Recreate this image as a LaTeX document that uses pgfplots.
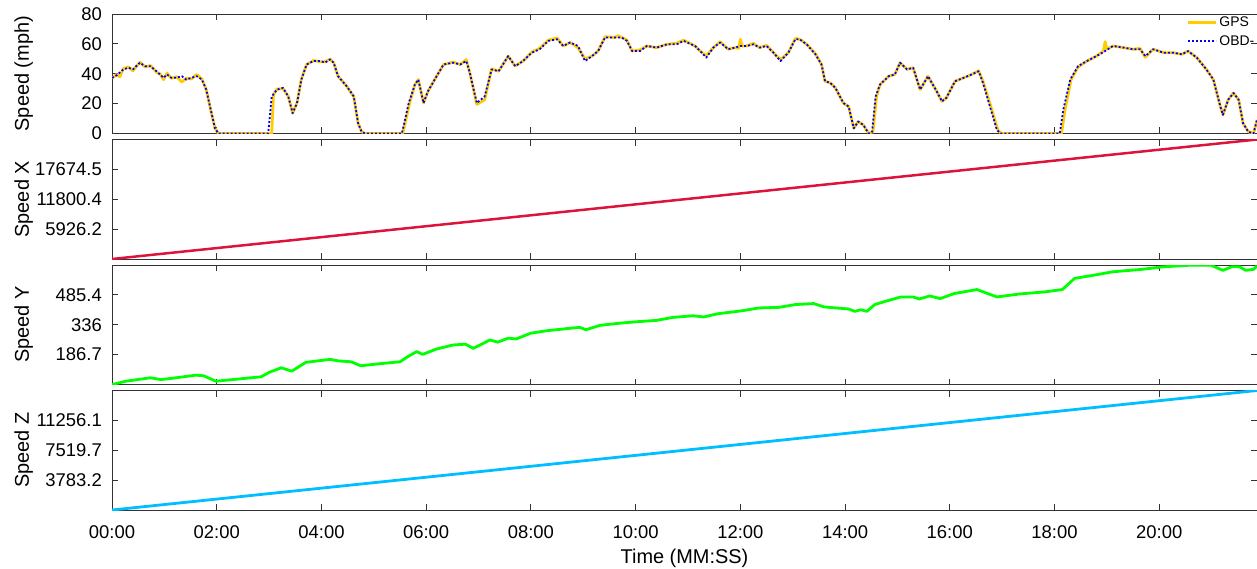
\documentclass[border=0pt]{standalone}
\usepackage{fontspec}
\setmainfont{Liberation Sans}
\usepackage{pgfplots}
\pgfplotsset{compat=1.18}
\definecolor{gpsY}{RGB}{255,204,0}
\definecolor{obdB}{RGB}{0,0,255}
\definecolor{sxR}{RGB}{220,20,60}
\definecolor{syG}{RGB}{0,255,0}
\definecolor{szC}{RGB}{0,191,255}
\pgfplotsset{
  panel/.style={
    scale only axis, width=1145bp, height=119.5bp,
    xmin=0, xmax=1312,
    xtick={0,120,...,1200},
    tick align=inside, major tick length=6bp,
    axis line style={black!80, line width=0.9bp},
    every tick/.style={black!80, line width=0.9bp},
    tick label style={font=\fontsize{18.5}{20}\selectfont},
    label style={font=\fontsize{20}{22}\selectfont},
    /pgf/number format/assume math mode=true,
    scaled y ticks=false,
    yticklabel style={inner sep=0pt, xshift=-10bp},
    ylabel style={at={(axis description cs:-0.0770,0.5)}, anchor=center},
    xticklabels={},
    anchor=north west,
    every axis plot/.append style={line join=round},
  },
}
\begin{document}
\begin{tikzpicture}
% Panel 1
\begin{axis}[panel, at={(112bp,-14bp)},
  ymin=0, ymax=80, ytick={0,20,40,60,80},
  ylabel={Speed (mph)},
  legend style={at={(axis description cs:0.9375,1.0)}, anchor=north west, draw=none, fill=none,
     font=\fontsize{14}{16}\selectfont, inner sep=1bp, row sep=3bp},
  legend image code/.code={\draw[#1] (0bp,0bp) -- (28bp,0bp);},
  legend cell align=left,
]
\addplot[gpsY, line width=2.8bp] coordinates {
(0,37) (5,39.5) (9,38) (13,43.5) (19,44.5) (24,42) (28,45) (32,47.8) (38,44.5) (44,45.5) (48,43) (51,41) (55,40) (59,36) (63,40.5) (68,37) (74,38) (80,34.5) (85,37) (91,36.5) (97,39.5) (103,36.5) (108,29.4) (114,13.6) (118,3.5) (122,0) (183,0) (185,26) (189,29.8) (196,30) (202,24.8) (207,13.6) (212,20.4) (217,36.5) (223,46.2) (231,48.9) (239,48) (244,48) (250,49.8) (254,47.4) (259,38.4) (269,31.6) (277,24.8) (282,6.9) (286,1.2) (290,0) (333,0) (335,4.6) (341,20.4) (347,32.7) (351,36.1) (357,20.4) (362,28.2) (372,38.4) (380,46.2) (391,47.8) (399,46.2) (406,49.5) (410,40.6) (418,19.5) (427,22.5) (435,43.3) (443,41.7) (454,51.8) (462,45.1) (471,48.5) (481,54.5) (490,57) (500,62.5) (510,64) (517,58.6) (525,60.9) (534,57.5) (542,50) (550,51.8) (557,55.2) (565,64.8) (576,64.3) (580,65.5) (584,64.3) (590,62.5) (596,55.2) (605,56) (613,58.6) (624,57.5) (636,59.7) (647,60.5) (655,62.5) (668,58.6) (674,55.2) (681,52) (689,57.5) (697,61.5) (706,56.4) (714,57.5) (718,57) (720,63.1) (722,58.5) (727,58.6) (735,60.3) (742,57.5) (750,59) (758,54.1) (766,49.5) (775,54.1) (783,63.6) (788,63.1) (796,59.7) (806,53.5) (813,46.2) (817,35) (823,33.9) (829,30.5) (838,20.4) (844,18.1) (850,3.5) (855,8) (861,5.7) (867,0) (872,1.2) (876,24.8) (880,32.7) (890,38.4) (897,39.5) (903,47.4) (911,42.9) (918,44) (926,29.4) (935,38.4) (945,28.2) (951,21.5) (956,23.8) (966,35) (976,37.3) (985,39.5) (993,42) (998,35) (1007,18.1) (1015,2.4) (1019,0) (1088,0) (1092,15.9) (1099,36.1) (1107,44.5) (1117,48.5) (1128,51.8) (1136,55.2) (1138,61.5) (1140,56.5) (1147,58.6) (1159,57.5) (1170,56.4) (1178,57) (1184,51) (1193,56.4) (1205,54.1) (1216,54.1) (1226,53) (1233,55.2) (1243,50.8) (1254,42.9) (1262,36.1) (1270,18.1) (1273,12.5) (1279,22.6) (1285,27.1) (1291,22.6) (1296,6.9) (1302,1.2) (1308,0) (1312,9.1)
};
\addlegendentry{GPS}
\addplot[obdB, line width=1.8bp, dash pattern=on 2bp off 2bp] coordinates {
(0,37.3) (5,38.8) (13,42.9) (19,44) (24,42.9) (32,47.4) (38,45) (44,45) (51,41.7) (59,37.3) (63,39.5) (68,37.3) (74,37.3) (80,38.4) (85,36.1) (91,37.3) (97,38.4) (103,36.1) (108,29.4) (114,13.6) (118,3.5) (122,0) (179,0) (183,24.8) (189,29.4) (196,30.5) (202,24.8) (207,13.6) (212,20.4) (217,36.1) (223,46.2) (231,48.5) (239,48.5) (244,47.4) (250,49.6) (254,47.4) (259,38.4) (269,31.6) (277,24.8) (282,6.9) (286,1.2) (290,0) (332,0) (334,4.6) (340,20.4) (347,32.7) (351,36.1) (357,20.4) (362,28.2) (372,38.4) (380,46.2) (391,47.4) (399,46.2) (406,48.5) (410,40.6) (418,20.4) (427,24.8) (435,42.9) (443,41.7) (454,51.8) (462,45.1) (471,48.5) (481,54.1) (490,56.4) (500,62) (510,63.1) (517,58.6) (525,60.9) (534,58.6) (542,48.5) (550,51.8) (557,55.2) (565,64.3) (576,64.3) (584,64.3) (590,62) (596,55.2) (605,55.2) (613,58.6) (624,57.5) (636,59.7) (647,59.7) (655,62) (668,58.6) (674,55.2) (681,50.8) (689,57.5) (697,60.9) (706,56.4) (714,57.5) (720,58.6) (727,58.6) (735,59.7) (742,57.5) (750,58.6) (758,54.1) (766,48.5) (775,54.1) (783,63.1) (788,63.1) (796,59.7) (806,53) (813,46.2) (817,35) (823,33.9) (829,30.5) (838,20.4) (844,18.1) (850,3.5) (855,8) (861,5.7) (867,0) (871,1.2) (875,24.8) (880,32.7) (890,38.4) (897,39.5) (903,47.4) (911,42.9) (918,44) (926,29.4) (935,38.4) (945,28.2) (951,21.5) (956,23.8) (966,35) (976,37.3) (985,39.5) (993,41.7) (998,33.9) (1006,18.1) (1014,2.4) (1018,0) (1086,0) (1090,15.9) (1098,36.1) (1107,45.1) (1117,48.5) (1128,51.8) (1138,55.2) (1147,58.6) (1159,57.5) (1170,56.4) (1178,56.4) (1184,51.8) (1193,56.4) (1205,54.1) (1216,54.1) (1226,53) (1233,55.2) (1243,50.8) (1254,42.9) (1262,36.1) (1270,18.1) (1273,12.5) (1279,22.6) (1285,27.1) (1291,22.6) (1296,6.9) (1302,1.2) (1308,0) (1312,9.1)
};
\addlegendentry{OBD-}
\end{axis}
% Panel 2
\begin{axis}[panel, at={(112bp,-139.5bp)},
  ymin=52, ymax=23548.7, ytick={5926.2,11800.4,17674.5}, yticklabels={5926.2,11800.4,17674.5},
  ylabel={Speed X}]
\addplot[sxR, line width=2.5bp] coordinates {(0,52) (1312,23548.7)};
\end{axis}
% Panel 3
\begin{axis}[panel, at={(112bp,-265bp)},
  ymin=37.35, ymax=634.75, ytick={186.7,336,485.4}, yticklabels={186.7,336,485.4},
  ylabel={Speed Y}]
\addplot[syG, line width=2.8bp] coordinates {
(0,37) (16,54) (44,71) (56,62) (68,68) (96,84) (105,81) (119,54) (143,64) (171,76) (180,98) (194,121) (206,104) (222,148) (250,163) (260,155) (274,151) (285,131) (306,141) (330,151) (339,177) (349,202) (356,188) (372,215) (391,235) (405,239) (414,218) (433,260) (442,249) (454,269) (463,265) (480,294) (498,306) (526,319) (536,323) (543,311) (559,333) (582,344) (601,351) (624,358) (643,373) (666,381) (678,375) (694,391) (722,406) (741,420) (764,423) (783,437) (804,442) (816,425) (844,415) (851,403) (858,411) (865,403) (874,437) (886,453) (904,475) (918,475) (925,465) (937,480) (949,467) (965,492) (991,512) (1014,475) (1040,490) (1068,500) (1089,512) (1103,568) (1124,583) (1147,601) (1180,613) (1203,625) (1236,634) (1259,634) (1273,608) (1283,626) (1292,626) (1299,608) (1308,613) (1312,630)
};
\end{axis}
% Panel 4
\begin{axis}[panel, at={(112bp,-390.5bp)},
  ymin=46.75, ymax=14992.6, ytick={3783.2,7519.7,11256.1}, yticklabels={3783.2,7519.7,11256.1},
  ylabel={Speed Z},
  xticklabels={00:00,02:00,04:00,06:00,08:00,10:00,12:00,14:00,16:00,18:00,20:00},
  xticklabel style={inner sep=0pt, yshift=-15bp},
  xlabel={Time (MM:SS)},
  xlabel style={at={(axis description cs:0.5,0)}, anchor=north, inner sep=0pt, yshift=-39bp}]
\addplot[szC, line width=2.8bp] coordinates {(0,46.75) (1312,14992.6)};
\end{axis}
\pgfresetboundingbox
\path[use as bounding box] (0,0) rectangle (1257bp,-569bp);
\end{tikzpicture}
\end{document}
